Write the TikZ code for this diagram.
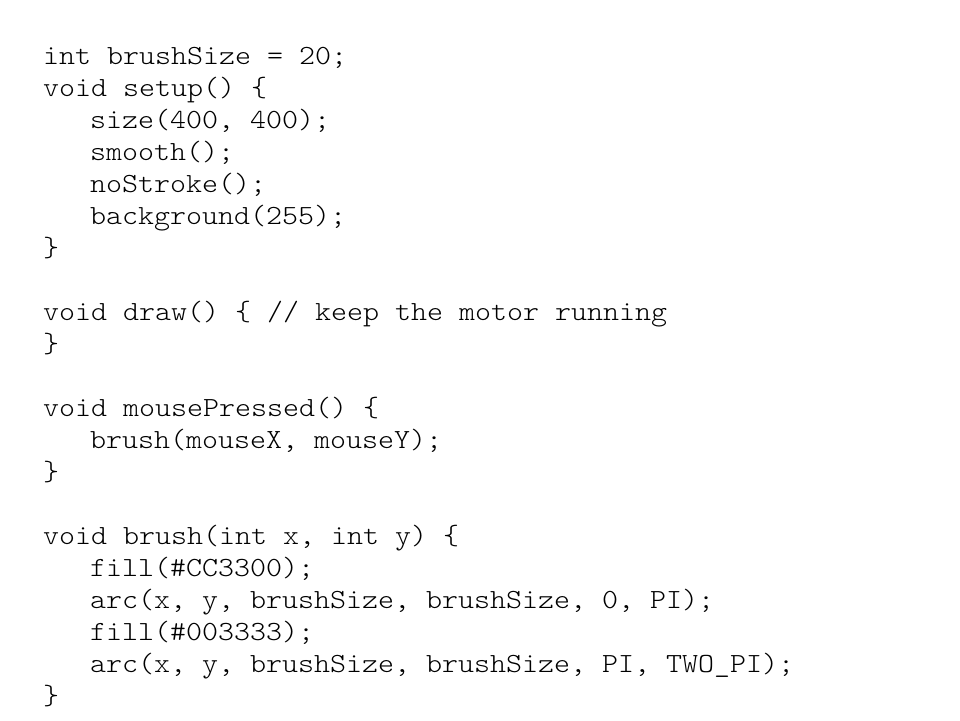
\documentclass[tikz,border=0pt]{standalone}
\usepackage{fontspec}
\setmonofont{Latin Modern Mono Light}[FakeStretch=1.1]
\begin{document}
\begin{tikzpicture}[x=1pt,y=-1pt,
  codeline/.style={anchor=base west,inner sep=0pt,font=\fontsize{27.7}{32}\selectfont\ttfamily,text=black}]
\useasboundingbox[fill=white] (0,0) rectangle (960,720);
\node[codeline] (l1) at (43,64) {int brushSize = 20;};
\node[codeline] (l2) at (43,96) {void setup() \{};
\node[codeline] (l3) at (90,128) {size(400, 400);};
\node[codeline] (l4) at (90,160) {smooth();};
\node[codeline] (l5) at (90,192) {noStroke();};
\node[codeline] (l6) at (90,224) {background(255);};
\node[codeline] (l7) at (43,256) {\}};
\node[codeline] (l9) at (43,320) {void draw() \{ // keep the motor running};
\node[codeline] (l10) at (43,352) {\}};
\node[codeline] (l12) at (43,416) {void mousePressed() \{};
\node[codeline] (l13) at (90,448) {brush(mouseX, mouseY);};
\node[codeline] (l14) at (43,480) {\}};
\node[codeline] (l16) at (43,544) {void brush(int x, int y) \{};
\node[codeline] (l17) at (90,576) {fill(\#CC3300);};
\node[codeline] (l18) at (90,608) {arc(x, y, brushSize, brushSize, 0, PI);};
\node[codeline] (l19) at (90,640) {fill(\#003333);};
\node[codeline] (l20) at (90,672) {arc(x, y, brushSize, brushSize, PI, TWO\_PI);};
\node[codeline] (l21) at (43,704) {\}};
\end{tikzpicture}
\end{document}
